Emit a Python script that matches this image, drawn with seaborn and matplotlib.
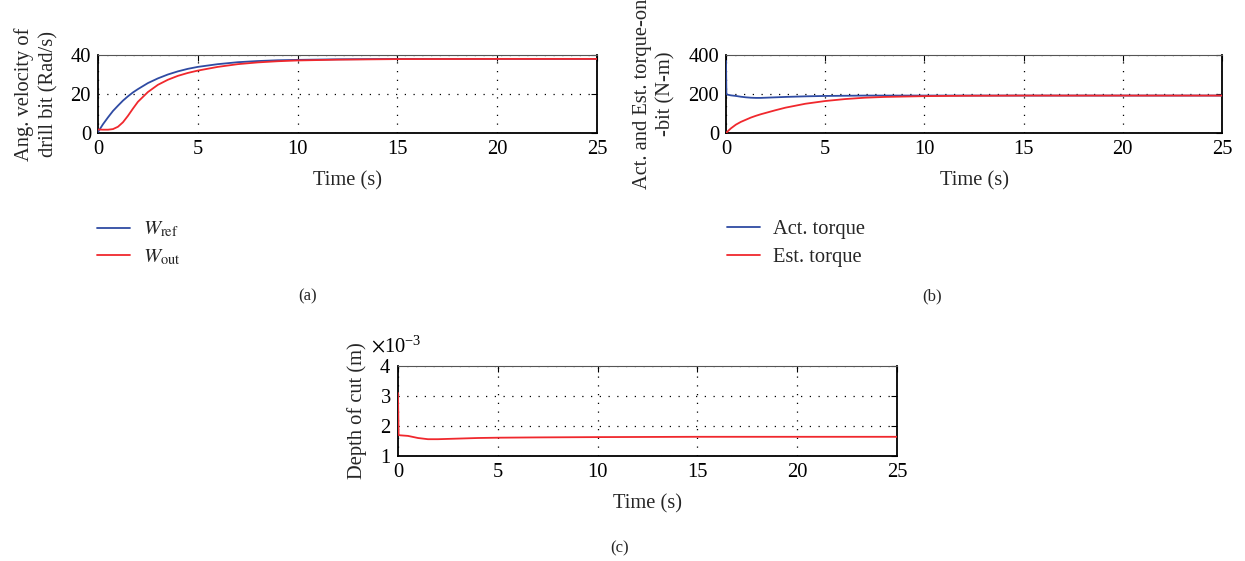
import numpy as np
import pandas as pd
import matplotlib
matplotlib.use("Agg")
import matplotlib.pyplot as plt
import seaborn as sns
from matplotlib.ticker import ScalarFormatter

# ---------------- data ----------------
t_a = [0, 0.25, 0.5, 0.75, 1, 1.25, 1.5, 1.75, 2, 2.5, 3, 3.5, 4, 4.5, 5,
       6, 7, 8, 9, 10, 12, 15, 20, 25]
w_ref = [0.5, 4.5, 8.0, 11.3, 14.0, 16.6, 18.8, 20.8, 22.5, 25.6, 28.0, 30.0,
         31.6, 32.9, 33.9, 35.3, 36.3, 36.9, 37.3, 37.5, 37.8, 38.0, 38.0, 38.0]
w_out = [1.8, 1.7, 1.7, 2.0, 3.2, 5.5, 8.8, 12.5, 16.0, 21.0, 24.7, 27.3,
         29.3, 30.8, 32.0, 33.9, 35.3, 36.2, 36.8, 37.2, 37.6, 37.9, 38.0, 38.0]

t_b = [0, 0.02, 0.1, 0.25, 0.5, 0.75, 1, 1.25, 1.5, 1.75, 2, 2.5, 3, 4, 5,
       6, 7, 8, 10, 12, 15, 20, 25]
act_torque = [370, 200, 196, 193, 190, 186, 183, 181, 180, 180, 181, 183, 185,
              188, 190, 191, 192, 192, 192, 192, 192, 192, 192]
est_torque = [0, 2, 10, 24, 43, 57, 68, 79, 88, 96, 103, 117, 130, 150, 164,
              174, 181, 185, 189, 191, 192, 192, 192]

t_c = [0, 0.03, 0.1, 0.5, 1, 1.5, 2, 3, 4, 5, 7, 10, 15, 20, 25]
depth = [3.10e-3, 1.70e-3, 1.69e-3, 1.67e-3, 1.60e-3, 1.56e-3, 1.56e-3,
         1.58e-3, 1.60e-3, 1.61e-3, 1.62e-3, 1.63e-3, 1.64e-3, 1.64e-3, 1.64e-3]

x_ticks = [0, 5, 10, 15, 20, 25]
ya_ticks = [0, 20, 40]
yb_ticks = [0, 200, 400]
yc_ticks = [1e-3, 2e-3, 3e-3, 4e-3]

BLUE = "#2F4BA3"
RED = "#F0282D"

# ---------------- style ----------------
sns.set_style("white")
plt.rcParams["font.family"] = ["Liberation Serif", "DejaVu Serif"]
plt.rcParams["mathtext.fontset"] = "stix"
FS = 14.8

W, H = 1245, 561
fig = plt.figure(figsize=(W / 100, H / 100), dpi=100)

def frac(l, t, r, b):
    return [l / W, 1 - b / H, (r - l) / W, (b - t) / H]

ax_a = fig.add_axes(frac(98, 55, 597, 133))
ax_b = fig.add_axes(frac(726, 55, 1222, 133))
ax_c = fig.add_axes(frac(398, 366, 897, 456))

def style(ax, yticks, ylim):
    ax.set_xlim(0, 25)
    ax.set_ylim(*ylim)
    ax.set_xticks(x_ticks)
    ax.set_yticks(yticks)
    ax.grid(True, color="black", linestyle=(0, (1, 6)), linewidth=0.9)
    ax.tick_params(direction="in", length=4, width=0.8, top=True, right=True,
                   labelsize=FS, pad=5, colors="black")
    for s in ax.spines.values():
        s.set_visible(True)
        s.set_color("black")
        s.set_linewidth(1.3)
    ax.spines["top"].set_linewidth(0.8)
    ax.spines["top"].set_color("#555555")
    ax.set_xlabel("Time (s)", fontsize=FS, labelpad=9)
    for ln in ax.get_lines():
        ln.set_zorder(3)

# (a)
df_a = pd.DataFrame({"t": t_a, "ref": w_ref, "out": w_out})
sns.lineplot(data=df_a, x="t", y="ref", ax=ax_a, color=BLUE, lw=1.3,
             label=r"$W_{\mathrm{ref}}$")
sns.lineplot(data=df_a, x="t", y="out", ax=ax_a, color=RED, lw=1.3,
             label=r"$W_{\mathrm{out}}$")
style(ax_a, ya_ticks, (0, 40))
ax_a.set_ylabel("Ang. velocity of\ndrill bit (Rad/s)", fontsize=FS, labelpad=9,
                linespacing=1.35)

# (b)
df_b = pd.DataFrame({"t": t_b, "act": act_torque, "est": est_torque})
sns.lineplot(data=df_b, x="t", y="act", ax=ax_b, color=BLUE, lw=1.3,
             label="Act. torque")
sns.lineplot(data=df_b, x="t", y="est", ax=ax_b, color=RED, lw=1.3,
             label="Est. torque")
style(ax_b, yb_ticks, (0, 400))
ax_b.set_ylabel("Act. and Est. torque-on\n-bit (N-m)", fontsize=FS, labelpad=9,
                linespacing=1.35)

# (c)
df_c = pd.DataFrame({"t": t_c, "d": depth})
sns.lineplot(data=df_c, x="t", y="d", ax=ax_c, color=RED, lw=1.3, legend=False)
style(ax_c, yc_ticks, (1e-3, 4e-3))
fmt = ScalarFormatter(useMathText=True)
fmt.set_powerlimits((-2, 2))
ax_c.yaxis.set_major_formatter(fmt)
ax_c.yaxis.OFFSETTEXTPAD = 10
ax_c.yaxis.get_offset_text().set_fontsize(FS)
ax_c.yaxis.get_offset_text().set_x(-0.055)
ax_c.set_ylabel("Depth of cut (m)", fontsize=FS, labelpad=9)

# legends below panels
for ax, x0 in ((ax_a, 97), (ax_b, 727)):
    h, l = ax.get_legend_handles_labels()
    ax.get_legend().remove()
    fig.legend(h, l, loc="upper left", bbox_to_anchor=(x0 / W, 1 - 220 / H),
               bbox_transform=fig.transFigure, frameon=False, fontsize=FS,
               handlelength=1.6, handletextpad=0.65, borderpad=0,
               borderaxespad=0, labelspacing=0.4)

# panel captions
fig.text(308 / W, 1 - 296 / H, "(a)", ha="center", va="center", fontsize=12)
fig.text(932 / W, 1 - 296 / H, "(b)", ha="center", va="center", fontsize=12)
fig.text(620 / W, 1 - 548 / H, "(c)", ha="center", va="center", fontsize=12)

fig.savefig("out.png", dpi=100)
